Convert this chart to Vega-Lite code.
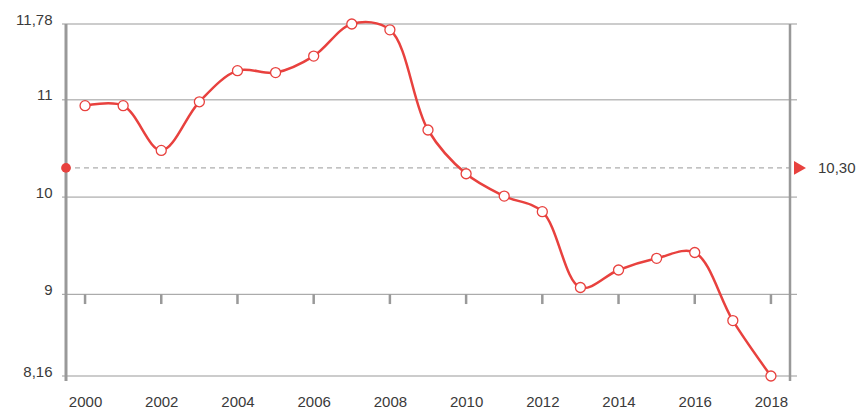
{
  "$schema": "https://vega.github.io/schema/vega-lite/v6.json",
  "width": 724,
  "height": 352,
  "autosize": {"type": "none"},
  "padding": {"left": 66, "top": 24, "right": 70, "bottom": 32},
  "background": "white",
  "config": {
    "view": {"stroke": null},
    "font": "Liberation Sans",
    "axis": {"labelFont": "Liberation Sans", "labelFontSize": 15, "labelColor": "#3a3a3a"}
  },
  "datasets": {
    "series": [
      {"year": 2000, "value": 10.94},
      {"year": 2001, "value": 10.94},
      {"year": 2002, "value": 10.48},
      {"year": 2003, "value": 10.98},
      {"year": 2004, "value": 11.30},
      {"year": 2005, "value": 11.28},
      {"year": 2006, "value": 11.45},
      {"year": 2007, "value": 11.78},
      {"year": 2008, "value": 11.72},
      {"year": 2009, "value": 10.69},
      {"year": 2010, "value": 10.24},
      {"year": 2011, "value": 10.01},
      {"year": 2012, "value": 9.85},
      {"year": 2013, "value": 9.07},
      {"year": 2014, "value": 9.25},
      {"year": 2015, "value": 9.37},
      {"year": 2016, "value": 9.43},
      {"year": 2017, "value": 8.73},
      {"year": 2018, "value": 8.16}
    ],
    "grid": [
      {"level": 8.16}, {"level": 9}, {"level": 10}, {"level": 11}, {"level": 11.78}
    ],
    "ticks": [
      {"year": 2000}, {"year": 2002}, {"year": 2004}, {"year": 2006}, {"year": 2008},
      {"year": 2010}, {"year": 2012}, {"year": 2014}, {"year": 2016}, {"year": 2018}
    ],
    "ref": [{"label": "10,30", "value": 10.3}]
  },
  "layer": [
    {
      "data": {"name": "grid"},
      "mark": {"type": "rule", "color": "#999999", "strokeWidth": 1, "xOffset": -4, "x2Offset": 7},
      "encoding": {
        "y": {"field": "level", "type": "quantitative",
          "scale": {"domain": [8.16, 11.78], "zero": false, "nice": false},
          "axis": {
            "title": null, "values": [8.16, 9, 10, 11, 11.78], "domain": false, "ticks": false, "grid": false,
            "labelBaseline": "alphabetic", "labelPadding": 14,
            "labelExpr": "replace(format(datum.value, '.2~f'), '.', ',')"
          }},
        "x": {"datum": 1999.5, "type": "quantitative",
          "scale": {"domain": [1999.5, 2018.5], "nice": false, "zero": false},
          "axis": {
            "title": null, "values": [2000, 2002, 2004, 2006, 2008, 2010, 2012, 2014, 2016, 2018],
            "format": "d", "domain": false, "ticks": false, "grid": false,
            "labelBaseline": "top", "labelPadding": 18
          }},
        "x2": {"datum": 2018.5}
      }
    },
    {
      "data": {"name": "ticks"},
      "mark": {"type": "rule", "color": "#999999", "strokeWidth": 2.5},
      "encoding": {
        "x": {"field": "year", "type": "quantitative"},
        "y": {"datum": 9, "type": "quantitative"},
        "y2": {"datum": 8.9}
      }
    },
    {
      "data": {"name": "ref"},
      "mark": {"type": "rule", "color": "#999999", "strokeWidth": 1, "strokeDash": [5, 4], "x2Offset": 4},
      "encoding": {
        "y": {"field": "value", "type": "quantitative"},
        "x": {"datum": 1999.5, "type": "quantitative"},
        "x2": {"datum": 2018.5}
      }
    },
    {
      "data": {"name": "ref"},
      "mark": {"type": "rule", "color": "#999999", "strokeWidth": 3, "y2Offset": 5},
      "encoding": {
        "x": {"datum": 1999.5, "type": "quantitative"},
        "y": {"datum": 11.78, "type": "quantitative"},
        "y2": {"datum": 8.16}
      }
    },
    {
      "data": {"name": "ref"},
      "mark": {"type": "rule", "color": "#999999", "strokeWidth": 2.5, "y2Offset": 5},
      "encoding": {
        "x": {"datum": 2018.5, "type": "quantitative"},
        "y": {"datum": 11.78, "type": "quantitative"},
        "y2": {"datum": 8.16}
      }
    },
    {
      "data": {"name": "series"},
      "mark": {"type": "line", "color": "#e8413e", "strokeWidth": 2.5, "interpolate": "catmull-rom"},
      "encoding": {
        "x": {"field": "year", "type": "quantitative"},
        "y": {"field": "value", "type": "quantitative"}
      }
    },
    {
      "data": {"name": "series"},
      "mark": {"type": "point", "shape": "circle", "filled": true, "fill": "white", "stroke": "#e8413e", "strokeWidth": 1.3, "size": 100, "opacity": 1},
      "encoding": {
        "x": {"field": "year", "type": "quantitative"},
        "y": {"field": "value", "type": "quantitative"}
      }
    },
    {
      "data": {"name": "ref"},
      "mark": {"type": "point", "shape": "circle", "filled": true, "color": "#e8413e", "size": 95, "opacity": 1},
      "encoding": {
        "x": {"datum": 1999.5, "type": "quantitative"},
        "y": {"field": "value", "type": "quantitative"}
      }
    },
    {
      "data": {"name": "ref"},
      "mark": {"type": "point", "shape": "triangle-right", "filled": true, "color": "#e8413e", "size": 190, "opacity": 1, "xOffset": 10},
      "encoding": {
        "x": {"datum": 2018.5, "type": "quantitative"},
        "y": {"field": "value", "type": "quantitative"}
      }
    },
    {
      "data": {"name": "ref"},
      "mark": {"type": "text", "align": "left", "baseline": "middle", "fontSize": 15, "color": "#3a3a3a", "xOffset": 28, "font": "Liberation Sans"},
      "encoding": {
        "x": {"datum": 2018.5, "type": "quantitative"},
        "y": {"field": "value", "type": "quantitative"},
        "text": {"field": "label"}
      }
    }
  ]
}
